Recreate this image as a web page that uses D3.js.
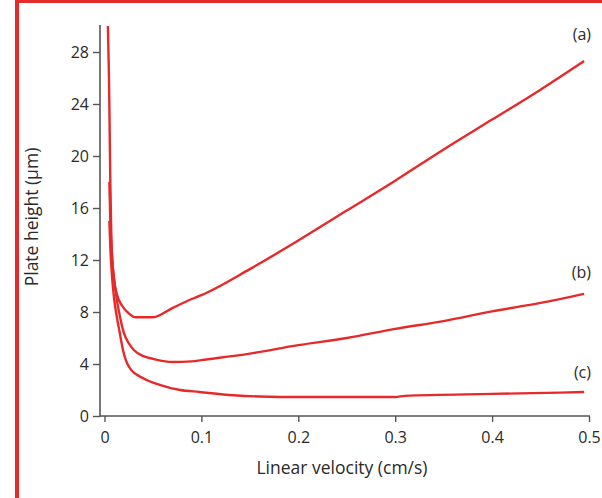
<!DOCTYPE html>
<html>
<head>
<meta charset="utf-8">
<script src="https://cdn.jsdelivr.net/npm/d3@7"></script>
<style>
  html, body { margin: 0; padding: 0; background: #fff; }
  svg { display: block; }
  text { font-family: "Open Sans", "Noto Sans", sans-serif; fill: #2a2a2a; }
</style>
</head>
<body>
<svg id="chart" width="602" height="498"></svg>
<script>
// ---- data ----
const xTicks = [0, 0.1, 0.2, 0.3, 0.4, 0.5];
const yTicks = [0, 4, 8, 12, 16, 20, 24, 28];
const xLabel = "Linear velocity (cm/s)";
const yLabel = "Plate height (\u00b5m)";
const seriesNames = ["(a)", "(b)", "(c)"];

const curveA = [
  [0.0035, 30], [0.0045, 26.5], [0.005, 24], [0.006, 18], [0.007, 14], [0.0085, 11.5],
  [0.01, 10.4], [0.013, 9.3], [0.018, 8.5], [0.025, 7.9], [0.032, 7.6], [0.05, 7.6],
  [0.07, 8.3], [0.09, 9.0], [0.1, 9.3], [0.15, 11.3], [0.2, 13.5], [0.25, 15.8],
  [0.3, 18.1], [0.35, 20.5], [0.4, 22.8], [0.45, 25.1], [0.495, 27.3]
];
const curveB = [
  [0.005, 18], [0.006, 15], [0.008, 12], [0.01, 10.5], [0.012, 9.3], [0.015, 8.0],
  [0.02, 6.4], [0.025, 5.6], [0.03, 5.1], [0.04, 4.6], [0.05, 4.4], [0.07, 4.15],
  [0.09, 4.2], [0.1, 4.3], [0.15, 4.8], [0.2, 5.45], [0.25, 6.0], [0.3, 6.7],
  [0.35, 7.3], [0.4, 8.05], [0.45, 8.7], [0.495, 9.4]
];
const curveC = [
  [0.005, 15], [0.006, 13], [0.008, 10.5], [0.01, 9], [0.013, 7.5], [0.016, 6.3],
  [0.019, 5.1], [0.026, 3.7], [0.04, 2.9], [0.057, 2.4], [0.078, 2.0], [0.098, 1.85],
  [0.133, 1.6], [0.16, 1.5], [0.2, 1.46], [0.3, 1.46], [0.31, 1.55], [0.4, 1.7],
  [0.47, 1.8], [0.495, 1.85]
];
const allCurves = [curveA, curveB, curveC];

// ---- layout ----
const svg = d3.select("#chart");
const red = "#e62a2a";

// frame (left + top red border)
svg.append("rect").attr("x", 15).attr("y", 0).attr("width", 4).attr("height", 498).attr("fill", red);
svg.append("rect").attr("x", 15).attr("y", 0).attr("width", 587).attr("height", 3).attr("fill", red);

const x = d3.scaleLinear().domain([0, 0.5]).range([104.5, 589]);
const y = d3.scaleLinear().domain([0, 28]).range([416, 52]);

const axisColor = "#555";

// x axis
const gx = svg.append("g").attr("transform", "translate(0,416)")
  .call(d3.axisBottom(x).tickValues(xTicks).tickFormat(d3.format("")).tickSize(6).tickSizeOuter(0));
gx.select(".domain").remove();
gx.append("line").attr("x1", 100).attr("x2", 590).attr("y1", 0).attr("y2", 0)
  .attr("stroke", axisColor).attr("stroke-width", 1.6);
gx.selectAll(".tick line").attr("stroke", axisColor).attr("stroke-width", 1.4);
gx.selectAll(".tick text").attr("dy", "1.15em").style("font-size", "16px").attr("fill", "#2a2a2a");

// y axis
const gy = svg.append("g").attr("transform", "translate(100,0)")
  .call(d3.axisLeft(y).tickValues(yTicks).tickSize(7).tickSizeOuter(0));
gy.select(".domain").remove();
gy.append("line").attr("x1", 0).attr("x2", 0).attr("y1", 25).attr("y2", 416.8)
  .attr("stroke", axisColor).attr("stroke-width", 1.6);
gy.selectAll(".tick line").attr("stroke", axisColor).attr("stroke-width", 1.4);
gy.selectAll(".tick text").attr("x", -11).style("font-size", "16px").attr("fill", "#2a2a2a");

// axis labels
svg.append("text").attr("x", 342).attr("y", 474).attr("text-anchor", "middle")
  .style("font-size", "17.5px").text(xLabel);
svg.append("text").attr("transform", "translate(38,217) rotate(-90)").attr("text-anchor", "middle")
  .style("font-size", "17.5px").text(yLabel);

// curves
const line = d3.line().curve(d3.curveMonotoneX).x(d => x(d[0])).y(d => y(d[1]));
svg.append("defs").append("clipPath").attr("id", "clip")
  .append("rect").attr("x", 100).attr("y", 25).attr("width", 500).attr("height", 392);
const plot = svg.append("g").attr("clip-path", "url(#clip)");
allCurves.forEach(c => {
  plot.append("path").datum(c).attr("d", line)
    .attr("fill", "none").attr("stroke", red).attr("stroke-width", 2.4)
    .attr("stroke-linejoin", "round").attr("stroke-linecap", "butt");
});

// series labels near curve ends
const labelPos = [[0.5, 28.9], [0.5, 10.6], [0.5, 2.9]];
seriesNames.forEach((n, i) => {
  svg.append("text").attr("x", x(labelPos[i][0]) + 2).attr("y", y(labelPos[i][1]))
    .attr("text-anchor", "end").style("font-size", "16px").text(n);
});
</script>
</body>
</html>
